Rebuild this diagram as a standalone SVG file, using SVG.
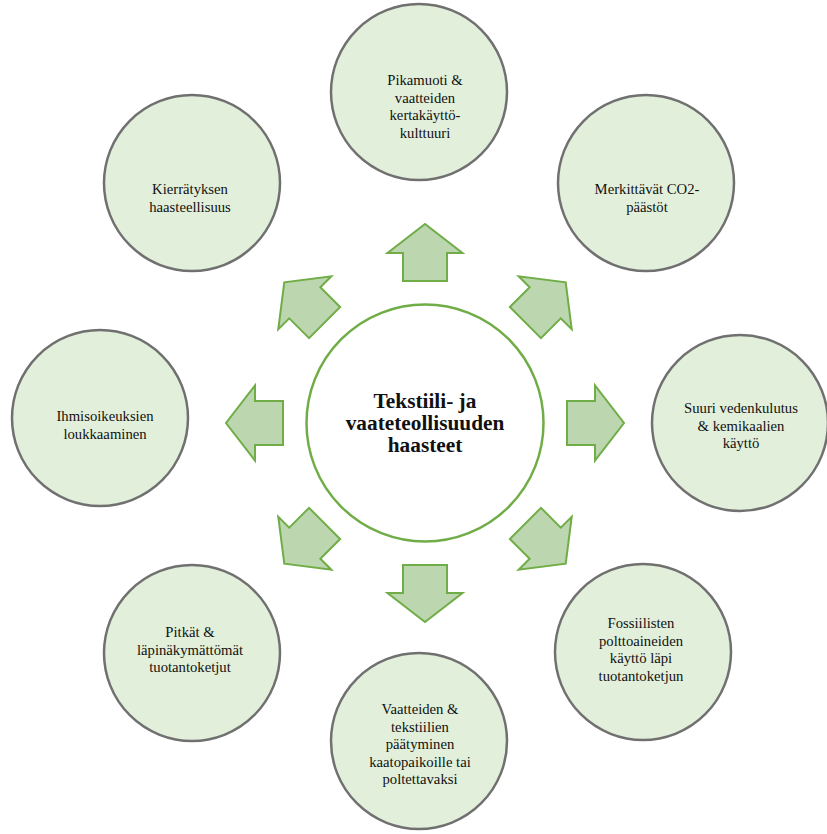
<svg xmlns="http://www.w3.org/2000/svg" width="827" height="834" viewBox="0 0 827 834">
  <style>
    .outer { fill: #e2efda; stroke: #707070; stroke-width: 2.5; }
    .hub { fill: #ffffff; stroke: #70ad47; stroke-width: 2.5; }
    .arrow { fill: #bcd6af; stroke: #70ad47; stroke-width: 2; stroke-linejoin: miter; }
    .lbl { font-family: "Liberation Serif", "Times New Roman", serif; font-size: 14.7px; fill: #111111; text-anchor: middle; }
    .title { font-family: "Liberation Serif", "Times New Roman", serif; font-size: 21.3px; font-weight: bold; fill: #111111; text-anchor: middle; }
  </style>
  <defs>
    <!-- block arrow pointing right, measured from the hub centre -->
    <polygon id="blockArrow" points="142,-22 170,-22 170,-37.5 199,0 170,37.5 170,22 142,22"/>
  </defs>
  <rect width="827" height="834" fill="#ffffff"/>

  <!-- arrows radiating from the hub -->
  <g id="connectors" class="arrow" transform="translate(425,423)">
    <use href="#blockArrow" transform="rotate(-90)"/>
    <use href="#blockArrow" transform="rotate(-45)"/>
    <use href="#blockArrow" transform="rotate(0)"/>
    <use href="#blockArrow" transform="rotate(45)"/>
    <use href="#blockArrow" transform="rotate(90)"/>
    <use href="#blockArrow" transform="rotate(135)"/>
    <use href="#blockArrow" transform="rotate(180)"/>
    <use href="#blockArrow" transform="rotate(225)"/>
  </g>

  <g id="hub">
    <circle class="hub" cx="425" cy="423" r="118.5"/>
    <text class="title" x="425" y="408">Tekstiili- ja</text>
    <text class="title" x="425" y="430">vaateteollisuuden</text>
    <text class="title" x="425" y="452">haasteet</text>
  </g>

  <g id="pikamuoti">
    <circle class="outer" cx="419" cy="92" r="88"/>
    <text class="lbl" x="425" y="85">Pikamuoti &amp;</text>
    <text class="lbl" x="425" y="102.5">vaatteiden</text>
    <text class="lbl" x="425" y="120">kertakäyttö-</text>
    <text class="lbl" x="425" y="137.5">kulttuuri</text>
  </g>

  <g id="co2">
    <circle class="outer" cx="646" cy="183" r="88"/>
    <text class="lbl" x="647" y="194">Merkittävät CO2-</text>
    <text class="lbl" x="647" y="212">päästöt</text>
  </g>

  <g id="vesi">
    <circle class="outer" cx="740" cy="423" r="88"/>
    <text class="lbl" x="741" y="413">Suuri vedenkulutus</text>
    <text class="lbl" x="741" y="430.5">&amp; kemikaalien</text>
    <text class="lbl" x="741" y="448">käyttö</text>
  </g>

  <g id="fossiiliset">
    <circle class="outer" cx="643" cy="652" r="88"/>
    <text class="lbl" x="641" y="628">Fossiilisten</text>
    <text class="lbl" x="641" y="645.5">polttoaineiden</text>
    <text class="lbl" x="641" y="663">käyttö läpi</text>
    <text class="lbl" x="641" y="680.5">tuotantoketjun</text>
  </g>

  <g id="kaatopaikat">
    <circle class="outer" cx="419" cy="741" r="88"/>
    <text class="lbl" x="420" y="714">Vaatteiden &amp;</text>
    <text class="lbl" x="420" y="731.5">tekstiilien</text>
    <text class="lbl" x="420" y="749">päätyminen</text>
    <text class="lbl" x="420" y="766.5">kaatopaikoille tai</text>
    <text class="lbl" x="420" y="784">poltettavaksi</text>
  </g>

  <g id="tuotantoketjut">
    <circle class="outer" cx="192" cy="653" r="88"/>
    <text class="lbl" x="190" y="637">Pitkät &amp;</text>
    <text class="lbl" x="190" y="654.5">läpinäkymättömät</text>
    <text class="lbl" x="190" y="672">tuotantoketjut</text>
  </g>

  <g id="ihmisoikeudet">
    <circle class="outer" cx="100" cy="418" r="88"/>
    <text class="lbl" x="105" y="421">Ihmisoikeuksien</text>
    <text class="lbl" x="105" y="439">loukkaaminen</text>
  </g>

  <g id="kierratys">
    <circle class="outer" cx="192" cy="183" r="88"/>
    <text class="lbl" x="190" y="194">Kierrätyksen</text>
    <text class="lbl" x="190" y="211.5">haasteellisuus</text>
  </g>
</svg>
